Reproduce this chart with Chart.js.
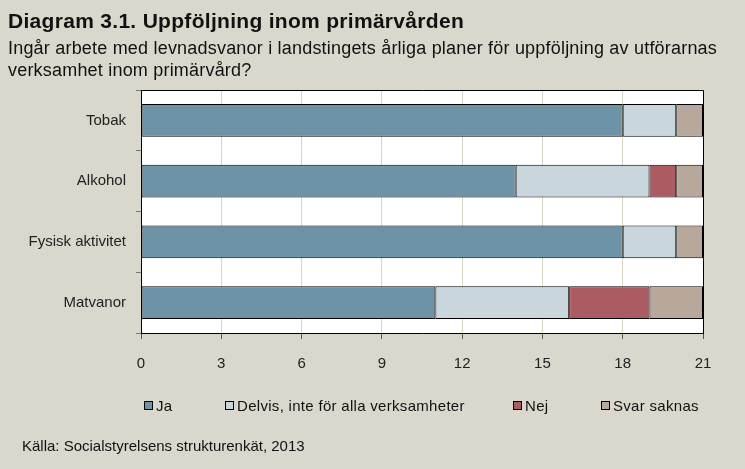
<!DOCTYPE html>
<html>
<head>
<meta charset="utf-8">
<script src="https://cdn.jsdelivr.net/npm/chart.js@4/dist/chart.umd.min.js"></script>
<style>
  html, body { margin: 0; padding: 0; }
  body { width: 745px; height: 469px; background: #dad8cc; position: relative; overflow: hidden;
         font-family: "Liberation Sans", Arial, sans-serif; color: #111; }
  #wrap { position: absolute; left: 0; top: 0; width: 745px; height: 469px; }
  .title { position: absolute; left: 8px; top: 9px; font-size: 21px; font-weight: bold; letter-spacing: 0.3px; }
  .sub { position: absolute; left: 8px; top: 37px; font-size: 18px; line-height: 22px; letter-spacing: 0.2px; width: 737px; white-space: nowrap; }
  .src { position: absolute; left: 22px; top: 437px; font-size: 15px; }
  #legend { position: absolute; top: 395px; left: 0; width: 745px; height: 20px; font-size: 15px; }
  .li { position: absolute; top: 0; display: flex; align-items: center; height: 20px; letter-spacing: 0.3px; }
  .sw { width: 7px; height: 7px; border: 1px solid #000; margin-right: 3px; }
</style>
</head>
<body>
<div id="wrap"><canvas id="c" width="745" height="469"></canvas></div>
<div class="title">Diagram 3.1. Uppföljning inom primärvården</div>
<div class="sub">Ingår arbete med levnadsvanor i landstingets årliga planer för uppföljning av utförarnas<br>verksamhet inom primärvård?</div>
<div id="legend"></div>
<div class="src">Källa: Socialstyrelsens strukturenkät, 2013</div>
<script>
const categories = ['Tobak', 'Alkohol', 'Fysisk aktivitet', 'Matvanor'];
const seriesNames = ['Ja', 'Delvis, inte för alla verksamheter', 'Nej', 'Svar saknas'];
const ja = [18, 14, 18, 11];
const delvis = [2, 5, 2, 5];
const nej = [0, 1, 0, 3];
const saknas = [1, 1, 1, 2];
const colors = ['#6e93a6', '#c9d6dc', '#ad5b63', '#b8a89c'];
const xTicks = [0, 3, 6, 9, 12, 15, 18, 21];
const legendX = [144, 225, 513, 601];

const values = [ja, delvis, nej, saknas];

// white plot area + top/right frame
const frame = {
  id: 'frame',
  beforeDraw(chart) {
    const { ctx, chartArea: a } = chart;
    ctx.save();
    ctx.fillStyle = '#fff';
    ctx.fillRect(a.left, a.top, a.right - a.left, a.bottom - a.top);
    ctx.restore();
  },
  afterDatasetsDraw(chart) {
    const { ctx, chartArea: a } = chart;
    ctx.save();
    ctx.strokeStyle = '#000';
    ctx.lineWidth = 1;
    ctx.beginPath();
    ctx.moveTo(a.left, a.top + 0.5);
    ctx.lineTo(a.right + 0.5, a.top + 0.5);
    ctx.lineTo(a.right + 0.5, a.bottom);
    ctx.stroke();
    ctx.restore();
  }
};

new Chart(document.getElementById('c'), {
  type: 'bar',
  data: {
    labels: categories,
    datasets: seriesNames.map((n, i) => ({
      label: n, data: values[i], backgroundColor: colors[i],
      borderColor: '#000', borderWidth: 1, borderSkipped: false,
      barPercentage: 0.54, categoryPercentage: 1
    }))
  },
  options: {
    indexAxis: 'y',
    responsive: false,
    animation: false,
    layout: { padding: { top: 90, right: 42, left: 0, bottom: 96 } },
    plugins: { legend: { display: false }, tooltip: { enabled: false } },
    scales: {
      x: {
        stacked: true, min: 0, max: 21,
        afterBuildTicks: s => { s.ticks = xTicks.map(v => ({ value: v })); },
        afterFit: s => { s.height = 40; },
        grid: { color: '#d8d5c6', lineWidth: 1, tickLength: 6, tickColor: '#555' },
        border: { color: '#000', width: 1 },
        ticks: { color: '#222', padding: 16, font: { family: 'Liberation Sans', size: 15 } }
      },
      y: {
        stacked: true,
        afterFit: s => { s.width = 141; },
        grid: { display: true, drawOnChartArea: false, offset: true, tickLength: 5, tickColor: '#777' },
        border: { color: '#000', width: 1 },
        ticks: { color: '#222', padding: 10, font: { family: 'Liberation Sans', size: 15 } }
      }
    }
  },
  plugins: [frame]
});

const leg = document.getElementById('legend');
seriesNames.forEach((n, i) => {
  const d = document.createElement('div');
  d.className = 'li';
  d.style.left = legendX[i] + 'px';
  d.innerHTML = '<span class="sw" style="background:' + colors[i] + '"></span>' + n;
  leg.appendChild(d);
});
</script>
</body>
</html>
